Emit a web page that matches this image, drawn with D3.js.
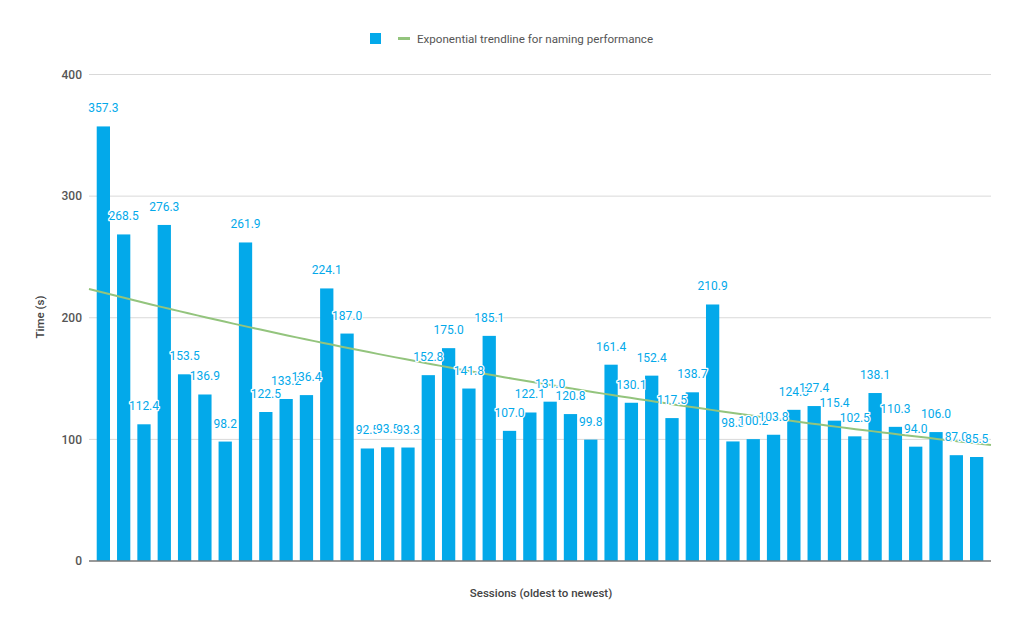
<!DOCTYPE html>
<html><head><meta charset="utf-8">
<script src="https://cdn.jsdelivr.net/npm/d3@7"></script>
<style>body{margin:0;background:#fff}svg{display:block;font-family:Roboto,"Open Sans",sans-serif}</style>
</head><body><svg id="c" width="1023" height="632"></svg>
<script>
const sessions = d3.range(1, 45);
const times = [357.3,268.5,112.4,276.3,153.5,136.9,98.2,261.9,122.5,133.2,136.4,224.1,187.0,92.5,93.5,93.3,152.8,175.0,141.8,185.1,107.0,122.1,131.0,120.8,99.8,161.4,130.1,152.4,117.5,138.7,210.9,98.3,100.2,103.8,124.3,127.4,115.4,102.5,138.1,110.3,94.0,106.0,87.0,85.5];
const yTicks = [0,100,200,300,400];
const trendEnds = [223.7, 95.4];
const trendName = "Exponential trendline for naming performance";
const xTitle = "Sessions (oldest to newest)";
const yTitle = "Time (s)";

const svg = d3.select("#c");
const L = 89, R = 991, T = 74.5, B = 561;
const x = d3.scaleBand().domain(sessions).range([L, R]).paddingInner(0.346).paddingOuter(0.38);
const y = d3.scaleLinear().domain([0, 400]).range([B, T]);
const barColor = "#03a9ea", trendColor = "#93c47d";

// gridlines
svg.append("g").selectAll("line").data(yTicks.filter(d => d > 0)).join("line")
  .attr("x1", L).attr("x2", R).attr("y1", d => y(d)).attr("y2", d => y(d))
  .attr("stroke", "#d9d9d9").attr("stroke-width", 1);

// y tick labels
svg.append("g").selectAll("text").data(yTicks).join("text")
  .attr("x", 82).attr("y", d => y(d)).attr("dy", "0.35em").attr("text-anchor", "end")
  .attr("font-size", 12).attr("font-weight", 500).attr("fill", "#555").text(d => d);

// bars
svg.append("g").selectAll("rect").data(times).join("rect")
  .attr("x", (d, i) => x(sessions[i])).attr("width", x.bandwidth())
  .attr("y", d => y(d)).attr("height", d => B - y(d)).attr("fill", barColor);

// baseline
svg.append("line").attr("x1", L).attr("x2", R).attr("y1", B).attr("y2", B)
  .attr("stroke", "#777").attr("stroke-width", 1.5);

// trendline (exponential between endpoints)
const tx = d3.scaleLinear().domain([0, 1]).range([L, R]);
const b = Math.log(trendEnds[1] / trendEnds[0]);
const pts = d3.range(0, 1.0001, 0.01).map(t => [tx(t), y(trendEnds[0] * Math.exp(b * t))]);
svg.append("path").attr("d", d3.line()(pts)).attr("fill", "none")
  .attr("stroke", trendColor).attr("stroke-width", 2);

// value labels
svg.append("g").selectAll("text").data(times).join("text")
  .attr("x", (d, i) => x(sessions[i]) + x.bandwidth() / 2).attr("y", d => y(d) - 14)
  .attr("text-anchor", "middle").attr("font-size", 12).attr("fill", barColor)
  .attr("stroke", "#fff").attr("stroke-width", 2.5).attr("paint-order", "stroke")
  .attr("stroke-linejoin", "round")
  .text(d => d.toFixed(1));

// axis titles
svg.append("text").attr("x", 541).attr("y", 597).attr("text-anchor", "middle")
  .attr("font-size", 11.5).attr("font-weight", 500).attr("fill", "#444").text(xTitle);
svg.append("text").attr("transform", "translate(44,317) rotate(-90)").attr("text-anchor", "middle")
  .attr("font-size", 11.5).attr("font-weight", 500).attr("fill", "#444").text(yTitle);

// legend
const lg = svg.append("g");
lg.append("rect").attr("x", 370).attr("y", 33).attr("width", 11).attr("height", 11).attr("fill", barColor);
lg.append("line").attr("x1", 398).attr("x2", 410).attr("y1", 38.5).attr("y2", 38.5)
  .attr("stroke", trendColor).attr("stroke-width", 3);
lg.append("text").attr("x", 417).attr("y", 39).attr("dy", "0.35em").attr("font-size", 11.6)
  .attr("fill", "#555").text(trendName);
</script></body></html>
